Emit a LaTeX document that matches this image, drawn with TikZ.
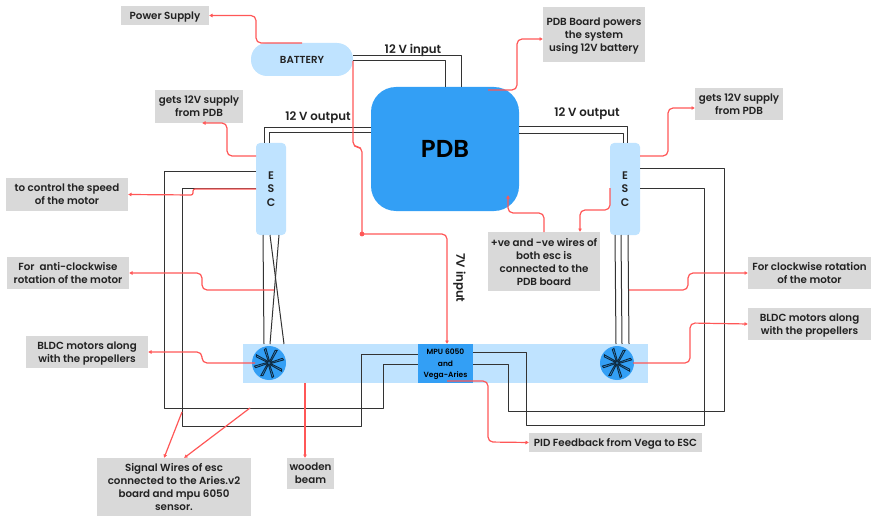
\documentclass[tikz,border=0pt]{standalone}
\usepackage{fontspec}
\setmainfont{Poppins}[UprightFont=*-Medium,BoldFont=*-SemiBold]
\usetikzlibrary{arrows.meta,calc}
\definecolor{labelgray}{HTML}{D9D9D9}
\definecolor{lightblue}{HTML}{BFE3FF}
\definecolor{midblue}{HTML}{339FF5}
\definecolor{redline}{HTML}{FF5757}
\definecolor{wire}{HTML}{333333}
\definecolor{ink}{HTML}{222222}
\tikzset{
  x=1pt,y=-1pt,
  every node/.style={inner sep=0pt,outer sep=0pt,align=center,text=ink,text depth=0pt},
  labelbox/.style={fill=labelgray,font=\fontsize{10.3}{13}\bfseries\selectfont},
  escbox/.style={fill=lightblue,rounded corners=4pt,minimum width=30pt,minimum height=92pt,font=\fontsize{11}{13.5}\bfseries\selectfont},
  wirepath/.style={draw=wire,line width=1pt,line join=round},
  redpath/.style={draw=redline,line width=1.2pt,rounded corners=5pt},
  redarrow/.style={redpath,-{Latex[length=3.5pt,width=4pt]}},
  wirelabel/.style={font=\fontsize{11.8}{12}\bfseries\selectfont,text=ink},
}
\newcommand{\fanblades}[1]{%
  \foreach \a in {0,45,...,315}{
    \draw[line width=0.9pt,draw=black!75!midblue,fill=midblue,rotate around={\a+12:(#1)}]
      ($(#1)+(1.5,-0.3)$) -- ($(#1)+(14,-1.8)$) -- ($(#1)+(15,0)$) -- ($(#1)+(1.5,0.9)$) -- cycle;
  }
  \draw[line width=0.6pt,draw=black!75!midblue,fill=midblue] (#1) circle (1.5);
}
\begin{document}
\begin{tikzpicture}
\useasboundingbox (0,0) rectangle (873,516);
% main blocks
\node[fill=lightblue,minimum width=405pt,minimum height=39pt] (beam) at (445.5,363.5) {};
\node[fill=lightblue,rounded corners=16pt,minimum width=102pt,minimum height=33pt,font=\fontsize{10.2}{12}\bfseries\selectfont] (battery) at (302,59.5) {BATTERY};
\node[fill=midblue,rounded corners=25pt,minimum width=148pt,minimum height=124pt,font=\fontsize{24.5}{30}\bfseries\selectfont,text=black] (pdb) at (445,149) {PDB};
\node[escbox] (escL) at (271,189) {E\\S\\C};
\node[escbox] (escR) at (625,189) {E\\S\\C};
\node[fill=midblue,minimum width=55pt,minimum height=39pt,font=\fontsize{7.5}{11.3}\bfseries\selectfont,text=black] (mpu) at (445.5,363.5) {MPU 6050\\and\\Vega-Aries};
\node[circle,fill=midblue,minimum size=34pt] (fanL) at (269,363) {};
\node[circle,fill=midblue,minimum size=34pt] (fanR) at (617,363) {};
\fanblades{fanL}
\fanblades{fanR}
% labels
\node[labelbox,minimum width=88pt,minimum height=19pt] (power) at (165,15.5) {Power Supply};
\node[labelbox,minimum width=88pt,minimum height=33pt] (getsL) at (199,106.5) {gets 12V supply\\from PDB};
\node[labelbox,minimum width=122pt,minimum height=33pt] (control) at (67,194.5) {to control the speed\\of the motor};
\node[labelbox,minimum width=122pt,minimum height=32pt] (anti) at (68,273) {For\ \ anti-clockwise\\rotation of the motor};
\node[labelbox,minimum width=122pt,minimum height=32pt] (bldcL) at (87,352) {BLDC motors along\\with the propellers};
\node[labelbox,minimum width=154pt,minimum height=58pt] (signal) at (174,487) {Signal Wires of esc\\connected to the Aries.v2\\board and mpu 6050\\sensor.};
\node[labelbox,minimum width=47pt,minimum height=31pt] (wooden) at (310.5,473.5) {wooden\\beam};
\node[labelbox,minimum width=88pt,minimum height=32pt] (getsR) at (739,104) {gets 12V supply\\from PDB};
\node[labelbox,minimum width=123pt,minimum height=32pt] (cw) at (809.5,273) {For clockwise rotation\\of the motor};
\node[labelbox,minimum width=123pt,minimum height=32pt] (bldcR) at (809.5,324) {BLDC motors along\\with the propellers};
\node[labelbox,minimum width=173pt,minimum height=19pt] (pid) at (615.5,442.5) {PID Feedback from Vega to ESC};
\node[labelbox,minimum width=112pt,minimum height=59pt] (ve) at (544,261.5) {+ve and -ve wires of\\both esc is\\connected to the\\PDB board};
\node[labelbox,minimum width=102pt,minimum height=55pt] (pdbnote) at (594,35) {PDB Board powers\\the system\\using 12V battery};
% wire labels
\node[wirelabel] (lin) at (413,49) {12 V input};
\node[wirelabel] (loutL) at (318,116) {12 V output};
\node[wirelabel] (loutR) at (587,112) {12 V output};
\node[wirelabel,rotate=-90] (l7v) at (461,278) {7V input};
% ports on the borders
\coordinate (batA) at (353,56); \coordinate (batB) at (353,60.5);
\coordinate (pdbA) at (461,87); \coordinate (pdbB) at (445,87);
\coordinate (pdbL1) at (371,128); \coordinate (pdbL2) at (371,133);
\coordinate (pdbR1) at (519,127); \coordinate (pdbR2) at (519,134);
\coordinate (eLt1) at (264,143); \coordinate (eLt2) at (269,143);
\coordinate (eRt1) at (627,143); \coordinate (eRt2) at (623,143);
\coordinate (eLs1) at (256,172); \coordinate (eLs2) at (256,188.5);
\coordinate (eRs1) at (640,169); \coordinate (eRs2) at (640,188);
\coordinate (mL1) at (418,364); \coordinate (mL2) at (418,354);
\coordinate (mR1) at (473,352.5); \coordinate (mR2) at (473,364);
% black wires
\draw[wirepath] (batA) -- (461,56) -- (pdbA);
\draw[wirepath] (batB) -- (445,60.5) -- (pdbB);
\draw[wirepath] (pdbL1) -- (264,128) -- (eLt1);
\draw[wirepath] (pdbL2) -- (269,133) -- (eLt2);
\draw[wirepath] (pdbR1) -- (627,127) -- (eRt1);
\draw[wirepath] (pdbR2) -- (623,134) -- (eRt2);
\draw[wirepath] (eLs1) -- (164,172) -- (164,408) -- (383,408) -- (383,364) -- (mL1);
\draw[wirepath] (eLs2) -- (182,188.5) -- (182,426) -- (361,426) -- (361,354) -- (mL2);
\draw[wirepath] (mR1) -- (526,352.5) -- (526,425) -- (704,425) -- (704,188) -- (eRs2);
\draw[wirepath] (mR2) -- (508,364) -- (508,411) -- (724,411) -- (724,169) -- (eRs1);
\draw[wirepath] (263,235) -- (264,344);
\draw[wirepath] (270,235) -- (284,344);
\draw[wirepath] (279,235) -- (270,344);
\draw[wirepath] (615,235) -- (616,344);
\draw[wirepath] (621,235) -- (622,344);
\draw[wirepath] (628,235) -- (629,344);
% red callouts
\draw[redarrow] (302,43) -- (256,43) -- (256,15.5) -- (power.east);
\draw[redarrow] (488,90) -- (517,90) -- (517,39) -- (543,39);
\draw[redarrow] (256,156) -- (227,156) -- (227,123) -- (202,123);
\draw[redarrow] (640,156) -- (668,156) -- (668,108) -- (695,108);
\draw[redarrow,rounded corners=2pt] (256,189) -- (193,189) -- (193,195) -- (control.east);
\draw[redarrow] (274,290) -- (202,290) -- (202,273) -- (anti.east);
\draw[redarrow] (255,363) -- (202,363) -- (202,352) -- (bldcL.east);
\draw[redarrow] (305,383) -- (305,458);
\draw[redarrow] (182,412) -- (164,458);
\draw[redarrow] (250,408) -- (184,458);
\draw[redarrow] (544,232) -- (544,213) -- (508,213) -- (508,195);
\draw[redarrow] (610,188) -- (610,210) -- (580,210) -- (580,232);
\draw[redpath] (353,61) -- (353,147) -- (362,147) -- (362,234) coordinate (junction);
\draw[redarrow] (junction) -- (447,234) -- (447,344);
\fill[redline] (junction) circle (2.4);
\draw[redarrow] (447,381) -- (488,381) -- (488,442) -- (pid.west);
\draw[redarrow] (629,290) -- (688,290) -- (688,273) -- (cw.west);
\draw[redarrow] (633,363) -- (690,363) -- (690,323) -- (bldcR.west);
\end{tikzpicture}
\end{document}
